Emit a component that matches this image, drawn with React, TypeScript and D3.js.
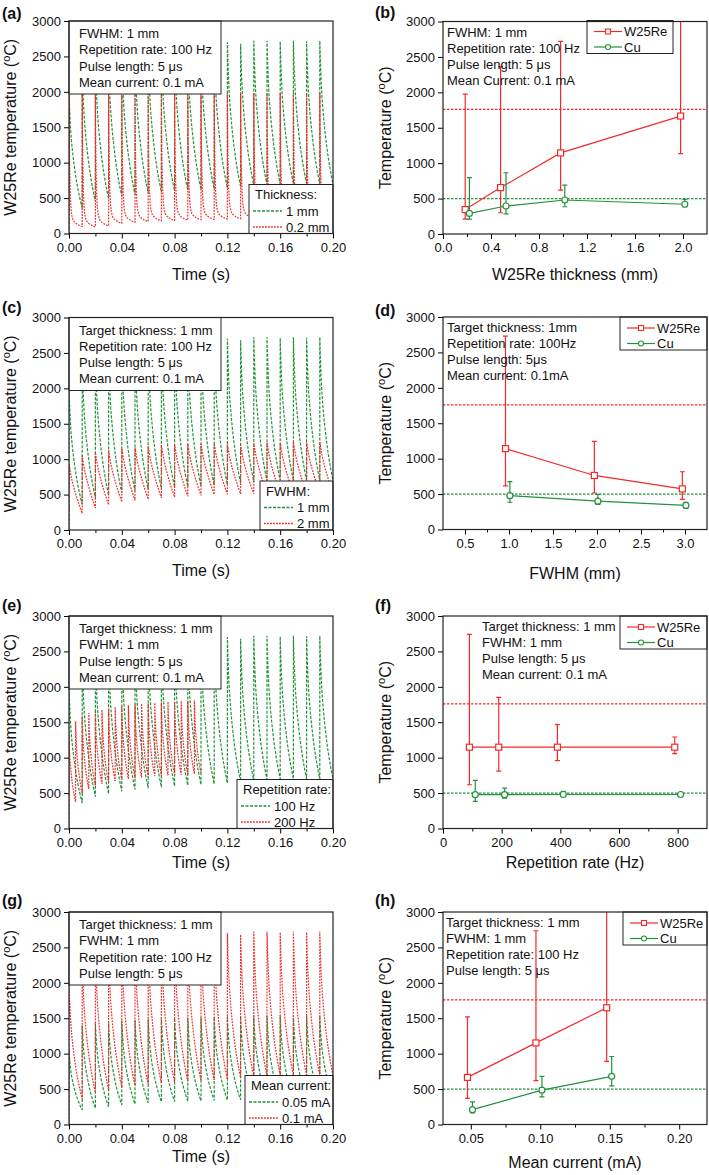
import { useEffect, useRef } from "react";
import * as d3 from "d3";

const FONT = "'Liberation Sans', Arial, Helvetica, sans-serif";
const RED = "#f42a2a";
const GREEN = "#23923c";
const W = 264;
const H = 212.5;
const Y_TICKS = [0, 500, 1000, 1500, 2000, 2500, 3000];

// shape of one decay between pulses: fraction of the period -> fraction of the peak/trough swing
const decayFrac = [0, 0.02, 0.05, 0.1, 0.15, 0.2, 0.3, 0.4, 0.5, 0.6, 0.7, 0.8, 0.9, 1];
const decayBase = [1, 0.93, 0.84, 0.72, 0.63, 0.56, 0.45, 0.36, 0.28, 0.21, 0.15, 0.095, 0.045, 0];
const decayThin = [1, 0.72, 0.45, 0.24, 0.14, 0.09, 0.05, 0.035, 0.025, 0.018, 0.012, 0.007, 0.003, 0];
const decayWide = [1, 0.97, 0.92, 0.84, 0.77, 0.7, 0.59, 0.49, 0.4, 0.31, 0.23, 0.15, 0.075, 0];

// reference case: 1 mm W25Re, FWHM 1 mm, 100 Hz, 0.1 mA
const basePeaks = [2000, 2360, 2450, 2490, 2530, 2550, 2570, 2585, 2600, 2610, 2620, 2630, 2700, 2680, 2720, 2720, 2710, 2720, 2715, 2720];
const baseTroughs = [360, 450, 490, 525, 550, 570, 585, 600, 610, 620, 628, 640, 660, 680, 690, 700, 700, 700, 700, 700];
// 0.2 mm thickness
const thinPeaks = [1950, 1970, 1975, 1980, 1980, 1985, 1985, 1985, 1985, 1985, 1985, 1985, 1985, 1985, 1985, 1985, 1985, 1985, 1985, 1985];
const thinTroughs = [100, 95, 110, 145, 160, 170, 180, 185, 190, 195, 200, 205, 210, 215, 215, 220, 220, 220, 220, 220];
// FWHM 2 mm
const widePeaks = [930, 1050, 1095, 1125, 1150, 1165, 1185, 1200, 1205, 1210, 1215, 1220, 1210, 1200, 1230, 1240, 1230, 1240, 1240, 1240];
const wideTroughs = [235, 310, 355, 395, 420, 435, 455, 465, 475, 490, 500, 505, 510, 510, 515, 515, 520, 520, 520, 520];
// 200 Hz
const rate200Peaks = [1320, 1515, 1585, 1630, 1660, 1675, 1695, 1715, 1725, 1740, 1750, 1765, 1770, 1775, 1780, 1790, 1795, 1800, 1805, 1810];
const rate200Troughs = [375, 490, 560, 600, 630, 650, 670, 690, 700, 710, 720, 730, 740, 745, 750, 755, 760, 765, 770, 780];
// 0.05 mA
const halfPeaks = [1050, 1400, 1430, 1450, 1470, 1480, 1490, 1500, 1505, 1510, 1515, 1520, 1530, 1530, 1535, 1540, 1540, 1540, 1540, 1540];
const halfTroughs = [205, 230, 250, 275, 290, 305, 320, 325, 330, 335, 340, 345, 350, 355, 360, 360, 365, 365, 365, 365];

// limits drawn as dotted lines in the summary panels
const W_LIMIT = 1760;
const CU_LIMIT = 500;

// (b) thickness
const bThickW = [0.185, 0.48, 0.98, 1.98];
const bTempW = [345, 655, 1145, 1665];
const bLoW = [210, 300, 620, 1135];
const bHiW = [1975, 2365, 2720, 3300];
const bThickCu = [0.22, 0.525, 1.015, 2.015];
const bTempCu = [290, 395, 480, 420];
const bLoCu = [210, 285, 385, 385];
const bHiCu = [795, 865, 690, 490];
// (d) FWHM
const dFwhmW = [0.96, 1.97, 2.97];
const dTempW = [1142, 763, 573];
const dLoW = [615, 515, 425];
const dHiW = [2730, 1245, 815];
const dFwhmCu = [1.01, 2.01, 3.01];
const dTempCu = [478, 400, 340];
const dLoCu = [385, 355, 305];
const dHiCu = [675, 495, 385];
// (f) repetition rate
const fRateW = [90, 190, 390, 790];
const fTempW = [1148, 1148, 1148, 1148];
const fLoW = [618, 810, 958, 1057];
const fHiW = [2740, 1850, 1467, 1292];
const fRateCu = [110, 210, 410, 810];
const fTempCu = [478, 478, 480, 480];
const fLoCu = [382, 430, 455, 470];
const fHiCu = [680, 570, 525, 490];
// (h) mean current
const hCurW = [0.0476, 0.0969, 0.1478];
const hTempW = [665, 1152, 1648];
const hLoW = [370, 620, 890];
const hHiW = [1520, 2735, 3300];
const hCurCu = [0.0512, 0.1012, 0.1514];
const hTempCu = [210, 485, 680];
const hLoCu = [165, 390, 545];
const hHiCu = [320, 680, 960];

const timeTicks = [0, 0.04, 0.08, 0.12, 0.16, 0.2];
const timeMinor = [0.02, 0.06, 0.1, 0.14, 0.18];

const GREEN_DASH = "3,1.5";
const RED_DASH = "1.8,1.2";

const timePanels = [
  {
    tag: "(a)", left: 69, top: 21, tagY: 19, xLabelY: 280, legLeft: 180,
    box: ["FWHM: 1 mm", "Repetition rate: 100 Hz", "Pulse length: 5 μs", "Mean current: 0.1 mA"],
    legTitle: "Thickness:",
    series: [
      { name: "1 mm", color: GREEN, dash: GREEN_DASH, period: 0.01, peaks: basePeaks, troughs: baseTroughs, shape: decayBase },
      { name: "0.2 mm", color: RED, dash: RED_DASH, period: 0.01, peaks: thinPeaks, troughs: thinTroughs, shape: decayThin },
    ],
  },
  {
    tag: "(c)", left: 69, top: 317.5, tagY: 313, xLabelY: 576, legLeft: 191,
    box: ["Target thickness: 1 mm", "Repetition rate: 100 Hz", "Pulse length: 5 μs", "Mean current: 0.1 mA"],
    legTitle: "FWHM:",
    series: [
      { name: "1 mm", color: GREEN, dash: GREEN_DASH, period: 0.01, peaks: basePeaks, troughs: baseTroughs, shape: decayBase },
      { name: "2 mm", color: RED, dash: RED_DASH, period: 0.01, peaks: widePeaks, troughs: wideTroughs, shape: decayWide },
    ],
  },
  {
    tag: "(e)", left: 69, top: 616, tagY: 611, xLabelY: 868, legLeft: 168,
    box: ["Target thickness: 1 mm", "FWHM: 1 mm", "Pulse length: 5 μs", "Mean current: 0.1 mA"],
    legTitle: "Repetition rate:",
    series: [
      { name: "100 Hz", color: GREEN, dash: GREEN_DASH, period: 0.01, peaks: basePeaks, troughs: baseTroughs, shape: decayBase },
      { name: "200 Hz", color: RED, dash: RED_DASH, period: 0.005, peaks: rate200Peaks, troughs: rate200Troughs, shape: decayBase },
    ],
  },
  {
    tag: "(g)", left: 69, top: 912, tagY: 906, xLabelY: 1162, legLeft: 176,
    box: ["Target thickness: 1 mm", "FWHM: 1 mm", "Repetition rate: 100 Hz", "Pulse length: 5 μs"],
    legTitle: "Mean current:",
    series: [
      { name: "0.05 mA", color: GREEN, dash: GREEN_DASH, period: 0.01, peaks: halfPeaks, troughs: halfTroughs, shape: decayBase },
      { name: "0.1 mA", color: RED, dash: RED_DASH, period: 0.01, peaks: basePeaks, troughs: baseTroughs, shape: decayBase },
    ],
  },
];

const summaryPanels = [
  {
    tag: "(b)", left: 443, top: 21.5, tagY: 18, xLabelY: 280, xLabel: "W25Re thickness (mm)",
    xDomain: [0, 2.2], xTicks: [0, 0.4, 0.8, 1.2, 1.6, 2.0], xMinor: [0.2, 0.6, 1.0, 1.4, 1.8], fmt: d3.format(".1f"),
    textX: 4, legLeft: 144, legW: 86, legTop: -1,
    notes: ["FWHM: 1 mm", "Repetition rate: 100 Hz", "Pulse length: 5 μs", "Mean Current: 0.1 mA"],
    w: { x: bThickW, y: bTempW, lo: bLoW, hi: bHiW },
    cu: { x: bThickCu, y: bTempCu, lo: bLoCu, hi: bHiCu },
  },
  {
    tag: "(d)", left: 443, top: 317, tagY: 316, xLabelY: 579, xLabel: "FWHM (mm)",
    xDomain: [0.25, 3.25], xTicks: [0.5, 1.0, 1.5, 2.0, 2.5, 3.0], xMinor: [0.75, 1.25, 1.75, 2.25, 2.75], fmt: d3.format(".1f"),
    textX: 4, legLeft: 177, legW: 87, legTop: 0,
    notes: ["Target thickness: 1mm", "Repetition rate: 100Hz", "Pulse length: 5μs", "Mean current: 0.1mA"],
    w: { x: dFwhmW, y: dTempW, lo: dLoW, hi: dHiW },
    cu: { x: dFwhmCu, y: dTempCu, lo: dLoCu, hi: dHiCu },
  },
  {
    tag: "(f)", left: 443, top: 616, tagY: 611, xLabelY: 868, xLabel: "Repetition rate (Hz)",
    xDomain: [0, 900], xTicks: [0, 200, 400, 600, 800], xMinor: [100, 300, 500, 700], fmt: d3.format("d"),
    textX: 39, legLeft: 177, legW: 87, legTop: 0,
    notes: ["Target thickness: 1 mm", "FWHM: 1 mm", "Pulse length: 5 μs", "Mean current: 0.1 mA"],
    w: { x: fRateW, y: fTempW, lo: fLoW, hi: fHiW },
    cu: { x: fRateCu, y: fTempCu, lo: fLoCu, hi: fHiCu },
  },
  {
    tag: "(h)", left: 443, top: 912, tagY: 906, xLabelY: 1168, xLabel: "Mean current (mA)",
    xDomain: [0.03, 0.22], xTicks: [0.05, 0.1, 0.15, 0.2], xMinor: [0.075, 0.125, 0.175], fmt: d3.format(".2f"),
    textX: 3, legLeft: 180, legW: 84, legTop: 0,
    notes: ["Target thickness: 1 mm", "FWHM: 1 mm", "Repetition rate: 100 Hz", "Pulse length: 5 μs"],
    w: { x: hCurW, y: hTempW, lo: hLoW, hi: hHiW },
    cu: { x: hCurCu, y: hTempCu, lo: hLoCu, hi: hHiCu },
  },
];

function pulsePoints(period: number, peaks: number[], troughs: number[], shape: number[]) {
  const pts: [number, number][] = [[0, 0]];
  peaks.forEach((p, k) => {
    const t0 = k * period;
    const tr = troughs[k];
    decayFrac.forEach((f, j) => pts.push([t0 + f * period, tr + (p - tr) * shape[j]]));
  });
  return pts;
}

function drawAxes(g: any, x: any, y: any, xTicks: number[], xMinor: number[], fmt: any) {
  const ya = g.append("g")
    .call(d3.axisLeft(y).tickValues(Y_TICKS).tickFormat(d3.format("d")).tickSize(5).tickPadding(3));
  const xa = g.append("g").attr("transform", `translate(0,${H})`)
    .call(d3.axisBottom(x).tickValues(xTicks).tickFormat(fmt).tickSize(5).tickPadding(4));
  g.append("g").attr("transform", `translate(0,${H})`)
    .call(d3.axisBottom(x).tickValues(xMinor).tickSize(3).tickFormat(() => ""));
  g.selectAll(".domain").remove();
  [ya, xa].forEach((a) => a.attr("font-size", 13).attr("font-family", FONT));
  g.selectAll(".tick text").attr("fill", "#111");
  g.append("rect").attr("width", W).attr("height", H)
    .attr("fill", "none").attr("stroke", "#222").attr("stroke-width", 1.2);
}

function yLabel(g: any, xPos: number, text: string) {
  const t = g.append("text")
    .attr("transform", `translate(${xPos},${H / 2}) rotate(-90)`)
    .attr("text-anchor", "middle").attr("font-size", 16).attr("font-family", FONT).attr("fill", "#111");
  t.append("tspan").text(text + " (");
  t.append("tspan").attr("font-size", 11).attr("dy", -6).text("o");
  t.append("tspan").attr("dy", 6).text("C)");
}

function clip(svg: any, g: any, id: string) {
  svg.append("defs").append("clipPath").attr("id", id)
    .append("rect").attr("width", W).attr("height", H);
  return g.append("g").attr("clip-path", `url(#${id})`);
}

function drawTimePanel(svg: any, p: any, i: number) {
  const g = svg.append("g").attr("transform", `translate(${p.left},${p.top})`);
  const x = d3.scaleLinear().domain([0, 0.2]).range([0, W]);
  const y = d3.scaleLinear().domain([0, 3000]).range([H, 0]);
  const line = d3.line<[number, number]>().x((d) => x(d[0])).y((d) => y(d[1]));
  const plot = clip(svg, g, `tclip${i}`);
  p.series.forEach((s: any) => {
    plot.append("path").attr("d", line(pulsePoints(s.period, s.peaks, s.troughs, s.shape)))
      .attr("fill", "none").attr("stroke", s.color).attr("stroke-width", 1.2).attr("stroke-dasharray", s.dash);
  });

  // condition box
  g.append("rect").attr("x", 0).attr("y", 0).attr("width", 152).attr("height", 73)
    .attr("fill", "#fff").attr("stroke", "#222").attr("stroke-width", 1);
  p.box.forEach((s: string, k: number) => {
    g.append("text").attr("x", 10).attr("y", 17 + k * 16.3).text(s)
      .attr("font-size", 13).attr("font-family", FONT).attr("fill", "#111");
  });

  // legend
  const lg = g.append("g").attr("transform", `translate(${p.legLeft},${H - 49})`);
  lg.append("rect").attr("width", W - p.legLeft).attr("height", 49)
    .attr("fill", "#fff").attr("stroke", "#222").attr("stroke-width", 1);
  lg.append("text").attr("x", 6).attr("y", 14.5).text(p.legTitle)
    .attr("font-size", 13).attr("font-family", FONT).attr("fill", "#111");
  p.series.forEach((s: any, k: number) => {
    const yy = 26.5 + k * 16;
    lg.append("path").attr("d", `M4,${yy}H33`)
      .attr("fill", "none").attr("stroke", s.color).attr("stroke-width", 1.4).attr("stroke-dasharray", s.dash);
    lg.append("text").attr("x", 37).attr("y", yy + 4.6).text(s.name)
      .attr("font-size", 13).attr("font-family", FONT).attr("fill", "#111");
  });

  drawAxes(g, x, y, timeTicks, timeMinor, d3.format(".2f"));
  yLabel(g, 16 - p.left, "W25Re temperature");
  g.append("text").attr("x", W / 2).attr("y", p.xLabelY - p.top).attr("text-anchor", "middle")
    .text("Time (s)").attr("font-size", 16).attr("font-family", FONT).attr("fill", "#111");
  svg.append("text").attr("x", 2).attr("y", p.tagY).text(p.tag)
    .attr("font-size", 16).attr("font-weight", "bold").attr("font-family", FONT).attr("fill", "#111");
}

function drawSummaryPanel(svg: any, p: any, i: number) {
  const g = svg.append("g").attr("transform", `translate(${p.left},${p.top})`);
  const x = d3.scaleLinear().domain(p.xDomain).range([0, W]);
  const y = d3.scaleLinear().domain([0, 3000]).range([H, 0]);
  const plot = clip(svg, g, `sclip${i}`);

  [[W_LIMIT, RED], [CU_LIMIT, GREEN]].forEach(([v, c]) => {
    plot.append("line").attr("x1", 0).attr("x2", W).attr("y1", y(v as number)).attr("y2", y(v as number))
      .attr("stroke", c).attr("stroke-width", 1.2).attr("stroke-dasharray", "2.5,1.5");
  });

  const series = [
    { name: "W25Re", color: RED, marker: "square", d: p.w },
    { name: "Cu", color: GREEN, marker: "circle", d: p.cu },
  ];
  const line = d3.line<any>().x((d) => x(d.x)).y((d) => y(d.y));
  series.forEach((s) => {
    const pts = s.d.x.map((xv: number, k: number) => ({ x: xv, y: s.d.y[k], lo: s.d.lo[k], hi: s.d.hi[k] }));
    pts.forEach((d: any) => {
      const cx = x(d.x);
      plot.append("line").attr("x1", cx).attr("x2", cx).attr("y1", y(d.lo)).attr("y2", y(d.hi))
        .attr("stroke", s.color).attr("stroke-width", 1.2);
      [d.lo, d.hi].forEach((v: number) => {
        plot.append("line").attr("x1", cx - 2.5).attr("x2", cx + 2.5).attr("y1", y(v)).attr("y2", y(v))
          .attr("stroke", s.color).attr("stroke-width", 1.2);
      });
    });
    plot.append("path").attr("d", line(pts)).attr("fill", "none").attr("stroke", s.color).attr("stroke-width", 1.2);
    pts.forEach((d: any) => {
      if (s.marker === "square") {
        plot.append("rect").attr("x", x(d.x) - 3).attr("y", y(d.y) - 3).attr("width", 6).attr("height", 6)
          .attr("fill", "#fff").attr("stroke", s.color).attr("stroke-width", 1.2);
      } else {
        plot.append("circle").attr("cx", x(d.x)).attr("cy", y(d.y)).attr("r", 3)
          .attr("fill", "#fff").attr("stroke", s.color).attr("stroke-width", 1.2);
      }
    });
  });

  p.notes.forEach((s: string, k: number) => {
    g.append("text").attr("x", p.textX).attr("y", 15 + k * 16).text(s)
      .attr("font-size", 13).attr("font-family", FONT).attr("fill", "#111");
  });

  const lg = g.append("g").attr("transform", `translate(${p.legLeft},${p.legTop})`);
  lg.append("rect").attr("width", p.legW).attr("height", 33)
    .attr("fill", "#fff").attr("stroke", "#222").attr("stroke-width", 1);
  series.forEach((s, k) => {
    const yy = 11 + k * 15.5;
    lg.append("line").attr("x1", 7).attr("x2", 35).attr("y1", yy).attr("y2", yy)
      .attr("stroke", s.color).attr("stroke-width", 1.2);
    if (s.marker === "square") {
      lg.append("rect").attr("x", 18.5).attr("y", yy - 2.5).attr("width", 5).attr("height", 5)
        .attr("fill", "#fff").attr("stroke", s.color).attr("stroke-width", 1.1);
    } else {
      lg.append("circle").attr("cx", 21).attr("cy", yy).attr("r", 2.5)
        .attr("fill", "#fff").attr("stroke", s.color).attr("stroke-width", 1.1);
    }
    lg.append("text").attr("x", 37).attr("y", yy + 4.6).text(s.name)
      .attr("font-size", 13).attr("font-family", FONT).attr("fill", "#111");
  });

  drawAxes(g, x, y, p.xTicks, p.xMinor, p.fmt);
  yLabel(g, 391 - p.left, "Temperature");
  g.append("text").attr("x", W / 2).attr("y", p.xLabelY - p.top).attr("text-anchor", "middle")
    .text(p.xLabel).attr("font-size", 16).attr("font-family", FONT).attr("fill", "#111");
  svg.append("text").attr("x", 375).attr("y", p.tagY).text(p.tag)
    .attr("font-size", 16).attr("font-weight", "bold").attr("font-family", FONT).attr("fill", "#111");
}

export default function App() {
  const ref = useRef<SVGSVGElement>(null);

  useEffect(() => {
    const svg = d3.select(ref.current);
    svg.selectAll("*").remove();
    timePanels.forEach((p, i) => drawTimePanel(svg, p, i));
    summaryPanels.forEach((p, i) => drawSummaryPanel(svg, p, i));
  }, []);

  return (
    <svg
      ref={ref}
      width={709}
      height={1175}
      style={{ position: "absolute", left: 0, top: 0, background: "#fff" }}
    />
  );
}
